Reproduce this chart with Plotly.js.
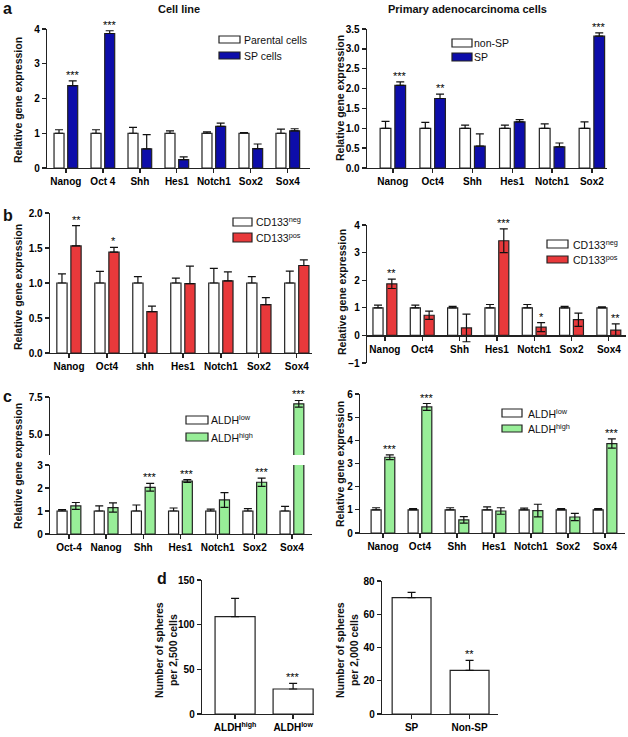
<!DOCTYPE html>
<html><head><meta charset="utf-8">
<script src="https://cdn.plot.ly/plotly-3.0.1.min.js"></script>
<style>html,body{margin:0;padding:0;background:#fff;} #chart{width:628px;height:737px;}</style>
</head><body><div id="chart"></div>
<script>
// ---------- DATA ----------
// a, cell line
const genesA1=['Nanog','Oct 4','Shh','Hes1','Notch1','Sox2','Sox4'];
const parentalA1=[1,1,1,1,1,1,1];
const parentalA1Err=[0.10,0.10,0.17,0.07,0.04,0.02,0.12];
const spA1=[2.37,3.87,0.55,0.24,1.20,0.56,1.07];
const spA1Err=[0.14,0.08,0.41,0.08,0.09,0.13,0.06];
const starsA1=['***','***','','','','',''];
// a, primary adenocarcinoma cells
const genesA2=['Nanog','Oct4','Shh','Hes1','Notch1','Sox2'];
const nonSpA2=[1,1,1,1,1,1];
const nonSpA2Err=[0.175,0.15,0.08,0.08,0.11,0.16];
const spA2=[2.08,1.75,0.55,1.16,0.53,3.32];
const spA2Err=[0.09,0.11,0.31,0.06,0.10,0.08];
const starsA2=['***','**','','','','***'];
// b, left
const genesB1=['Nanog','Oct4','shh','Hes1','Notch1','Sox2','Sox4'];
const negB1=[1,1,1,1,1,1,1];
const negB1Err=[0.13,0.165,0.09,0.07,0.21,0.09,0.17];
const posB1=[1.53,1.44,0.59,0.99,1.03,0.69,1.25];
const posB1Err=[0.29,0.07,0.08,0.25,0.13,0.10,0.08];
const starsB1=['**','*','','','','',''];
// b, right
const genesB2=['Nanog','Oct4','Shh','Hes1','Notch1','Sox2','Sox4'];
const negB2=[1,1,1,1,1,1,1];
const negB2Err=[0.10,0.10,0.05,0.12,0.12,0.05,0.03];
const posB2=[1.87,0.73,0.27,3.43,0.30,0.57,0.19];
const posB2Err=[0.17,0.15,0.50,0.43,0.16,0.24,0.23];
const starsB2=['**','','','***','*','','**'];
// c, left (broken axis)
const genesC1=['Oct-4','Nanog','Shh','Hes1','Notch1','Sox2','Sox4'];
const lowC1=[1,1,1,1,1,1,1];
const lowC1Err=[0.06,0.22,0.26,0.13,0.08,0.10,0.20];
const highC1=[1.22,1.15,2.03,2.30,1.48,2.25,7.05];
const highC1Err=[0.15,0.20,0.17,0.06,0.32,0.18,0.22];
const starsC1=['','','***','***','','***','***'];
// c, right
const genesC2=['Nanog','Oct4','Shh','Hes1','Notch1','Sox2','Sox4'];
const lowC2=[1,1,1,1,1,1,1];
const lowC2Err=[0.09,0.05,0.09,0.13,0.07,0.05,0.05];
const highC2=[3.27,5.44,0.57,0.95,0.97,0.69,3.86];
const highC2Err=[0.10,0.15,0.14,0.14,0.27,0.16,0.20];
const starsC2=['***','***','','','','','***'];
// d
const groupsD1=['ALDH<sup>high</sup>','ALDH<sup>low</sup>'];
const spheresD1=[109,28];
const spheresD1Err=[20.5,6.3];
const starsD1=['','***'];
const groupsD2=['SP','Non-SP'];
const spheresD2=[70,26.3];
const spheresD2Err=[3.2,6];
const starsD2=['','**'];
// legend labels
const legendA1=['Parental cells','SP cells'];
const legendA2=['non-SP','SP'];
const legendB=['CD133<sup>neg</sup>','CD133<sup>pos</sup>'];
const legendC=['ALDH<sup>low</sup>','ALDH<sup>high</sup>'];

// ---------- STYLE / LAYOUT ----------
const W=628,H=737;
const px=v=>v/W, py=v=>1-v/H;
const FONT='Liberation Sans, Arial, sans-serif';
const INK='#222';
const BLUE='#0d0daa', RED='#e8393b', GREEN='#98ee98';
const tickFont={family:FONT,size:10,color:'#000',weight:'bold'};
const traces=[], annotations=[], shapes=[];
const layout={width:W,height:H,margin:{l:0,r:0,t:0,b:0},paper_bgcolor:'#fff',plot_bgcolor:'rgba(0,0,0,0)',
  barmode:'group',bargap:0.26,bargroupgap:0.27,showlegend:false,font:{family:FONT,color:'#111'}};

function xAxis(n,dom,range,cats,extra){
  layout['xaxis'+(n===1?'':n)]=Object.assign({domain:[px(dom[0]),px(dom[1])],range:range,type:'category',
    categoryarray:cats,categoryorder:'array',anchor:'y'+(n===1?'':n),showline:true,linecolor:INK,linewidth:1.3,
    ticks:'outside',ticklen:4,tickwidth:1.3,tickcolor:INK,showgrid:false,zeroline:false,tickfont:tickFont,fixedrange:true},extra||{});
}
function yAxis(n,dom,range,anchor,extra){
  layout['yaxis'+(n===1?'':n)]=Object.assign({domain:[py(dom[1]),py(dom[0])],range:range,anchor:anchor,
    showline:true,linecolor:INK,linewidth:1.3,ticks:'outside',ticklen:4,tickwidth:1.3,tickcolor:INK,
    showgrid:false,zeroline:false,tickfont:tickFont,fixedrange:true},extra||{});
}
function errUp(arr){return {type:'data',array:arr,arrayminus:arr.map(()=>0),symmetric:false,color:'#111',thickness:1.2,width:4};}
function errSym(arr){return {type:'data',array:arr,symmetric:true,color:'#111',thickness:1.2,width:4};}
function pair(xa,ya,cats,c,cErr,t,tErr,names,color,symT){
  traces.push({type:'bar',x:cats,y:c,name:names[0],xaxis:xa,yaxis:ya,
    marker:{color:'#fff',line:{color:INK,width:1.2}},error_y:errUp(cErr)});
  traces.push({type:'bar',x:cats,y:t,name:names[1],xaxis:xa,yaxis:ya,
    marker:{color:color,line:{color:INK,width:1.2}},error_y:symT?errSym(tErr):errUp(tErr)});
}
function stars(xa,ya,vals,errs,st,off,yaFn){
  st.forEach((s,i)=>{ if(!s) return; const top=vals[i]+errs[i];
    annotations.push({x:i+off,y:top,xref:xa,yref:yaFn?yaFn(top):ya,text:s,showarrow:false,yanchor:'bottom',
      yshift:-2,font:{family:FONT,size:11,color:'#000'}});});
}
// legend swatches: [x0,x1] swatch span, rows: [yTop,yBottom] per item, text x
function legendBox(x0,x1,rows,names,colors,tx){
  rows.forEach((r,i)=>{
    shapes.push({type:'rect',xref:'paper',yref:'paper',x0:px(x0),x1:px(x1),y0:py(r[1]),y1:py(r[0]),
      fillcolor:colors[i],line:{color:INK,width:1.2}});
    annotations.push({x:px(tx),y:py((r[0]+r[1])/2),xref:'paper',yref:'paper',text:names[i],showarrow:false,
      xanchor:'left',yanchor:'middle',font:{family:FONT,size:10.5,color:'#111'}});
  });
}
const OFF=0.185;

// a left
xAxis(1,[47,310],[-0.51,6.6],genesA1); yAxis(1,[29,168],[0,4],'x',{dtick:1});
pair('x','y',genesA1,parentalA1,parentalA1Err,spA1,spA1Err,legendA1,BLUE,false);
stars('x','y',spA1,spA1Err,starsA1,OFF);
legendBox(219,240,[[36,43],[52,59]],legendA1,['#fff',BLUE],242);
// a right
xAxis(2,[367,607],[-0.65,5.38],genesA2); yAxis(2,[29,168],[0,3.5],'x2',{dtick:0.5,tickformat:'.1f'});
pair('x2','y2',genesA2,nonSpA2,nonSpA2Err,spA2,spA2Err,legendA2,BLUE,false);
stars('x2','y2',spA2,spA2Err,starsA2,OFF);
legendBox(452,472,[[39,47],[53,61]],legendA2,['#fff',BLUE],472);
// b left
xAxis(3,[50,312],[-0.5,6.4],genesB1); yAxis(3,[213,353],[0,2],'x3',{dtick:0.5,tickformat:'.1f'});
pair('x3','y3',genesB1,negB1,negB1Err,posB1,posB1Err,legendB,RED,false);
stars('x3','y3',posB1,posB1Err,starsB1,OFF);
legendBox(233,252,[[218,226],[233,242]],legendB,['#fff',RED],254);
// b right (x axis crosses at y=0)
const b2dom=[225,363], b2range=[-1,4];
const b2pos=py(b2dom[1])+(py(b2dom[0])-py(b2dom[1]))*(0-b2range[0])/(b2range[1]-b2range[0]);
xAxis(4,[367,626],[-0.48,6.46],genesB2,{anchor:'free',position:b2pos}); yAxis(4,b2dom,b2range,'x4',{dtick:1});
pair('x4','y4',genesB2,negB2,negB2Err,posB2,posB2Err,legendB,RED,true);
stars('x4','y4',posB2,posB2Err,starsB2,OFF);
legendBox(547,568,[[240,248],[256,263]],legendB,['#fff',RED],571);
// c left: lower (y5) and upper (y9) segments
xAxis(5,[50,312],[-0.51,6.54],genesC1); yAxis(5,[465,534],[0,3],'x5',{dtick:1});
yAxis(9,[397,455],[3.68,7.5],'x5',{tickvals:[5,7.5],tickformat:'.1f'});
pair('x5','y5',genesC1,lowC1,lowC1Err,highC1,highC1Err,legendC,GREEN,true);
pair('x5','y9',genesC1,lowC1,lowC1Err,highC1,highC1Err,legendC,GREEN,true);
stars('x5','y5',highC1,highC1Err,starsC1,OFF,top=>top>3?'y9':'y5');
legendBox(186,208,[[416,424],[433,441]],legendC,['#fff',GREEN],209);
// c right
xAxis(6,[360,625],[-0.62,6.54],genesC2); yAxis(6,[394,533],[0,6],'x6',{dtick:1});
pair('x6','y6',genesC2,lowC2,lowC2Err,highC2,highC2Err,legendC,GREEN,true);
stars('x6','y6',highC2,highC2Err,starsC2,OFF);
legendBox(502,522,[[409,417],[425,432]],legendC,['#fff',GREEN],526);
// d left
xAxis(7,[202,314],[-0.57,1.36],groupsD1); yAxis(7,[580,714],[0,150],'x7',{dtick:50});
traces.push({type:'bar',x:groupsD1,y:spheresD1,xaxis:'x7',yaxis:'y7',width:0.69,
  marker:{color:'#fff',line:{color:INK,width:1.2}},error_y:errUp(spheresD1Err)});
stars('x7','y7',spheresD1,spheresD1Err,starsD1,0);
// d right
xAxis(8,[382,498],[-0.51,1.49],groupsD2); yAxis(8,[581,714],[0,80],'x8',{dtick:20});
traces.push({type:'bar',x:groupsD2,y:spheresD2,xaxis:'x8',yaxis:'y8',width:0.67,
  marker:{color:'#fff',line:{color:INK,width:1.2}},error_y:errUp(spheresD2Err)});
stars('x8','y8',spheresD2,spheresD2Err,starsD2,0);

// titles, panel letters, axis titles
function ptext(x,y,t,size,opts){annotations.push(Object.assign({x:px(x),y:py(y),xref:'paper',yref:'paper',text:t,showarrow:false,
  xanchor:'center',yanchor:'middle',font:{family:FONT,size:size,color:'#111',weight:'bold'}},opts||{}));}
ptext(179,9,'Cell line',11);
ptext(467,9,'Primary adenocarcinoma cells',11);
ptext(1,-2,'a',16,{xanchor:'left',yanchor:'top'});
ptext(1,205,'b',16,{xanchor:'left',yanchor:'top'});
ptext(1,386,'c',16,{xanchor:'left',yanchor:'top'});
ptext(155,568,'d',16,{xanchor:'left',yanchor:'top'});
const yt='Relative gene expression';
ptext(18,100,yt,10.5,{textangle:-90});
ptext(340,98,yt,10.5,{textangle:-90});
ptext(18,287,yt,10.5,{textangle:-90});
ptext(342,292,yt,10.5,{textangle:-90});
ptext(18,466,yt,10.5,{textangle:-90});
ptext(340,464,yt,10.5,{textangle:-90});
ptext(166,650,'Number of spheres<br>per 2,500 cells',10.5,{textangle:-90});
ptext(347,650,'Number of spheres<br>per 2,000 cells',10.5,{textangle:-90});

layout.annotations=annotations;
layout.shapes=shapes;
Plotly.newPlot('chart',traces,layout,{displayModeBar:false,staticPlot:true});
</script></body></html>
